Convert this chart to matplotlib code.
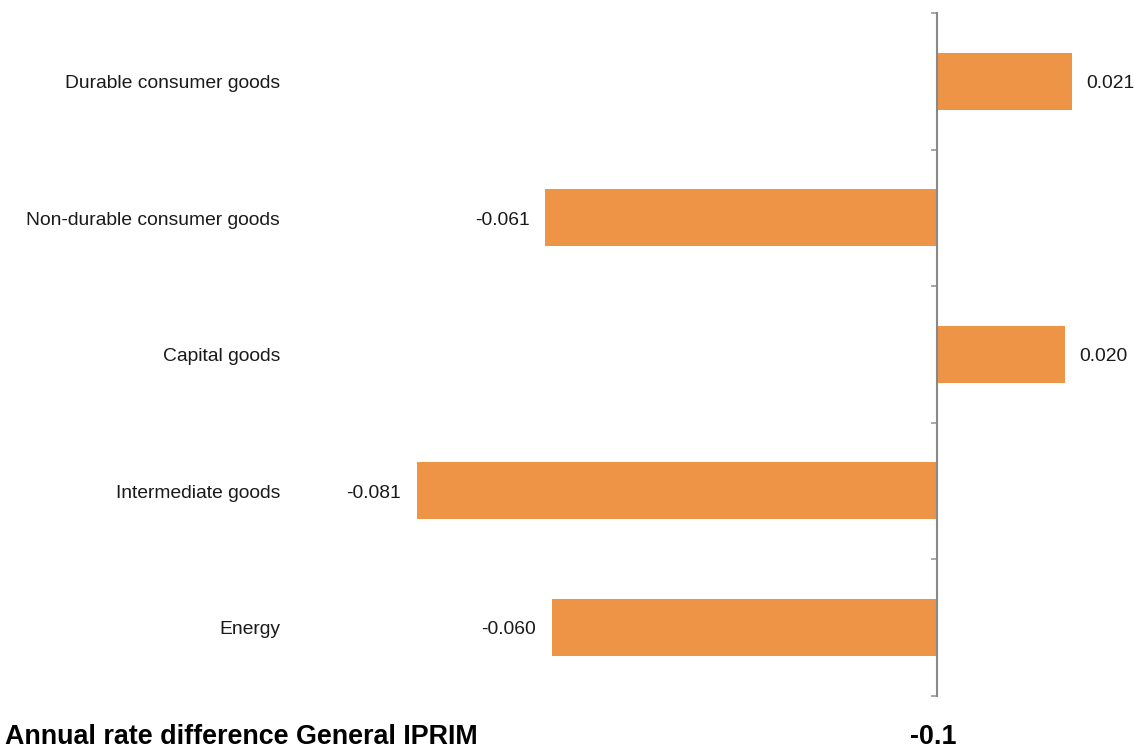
import matplotlib
matplotlib.use("Agg")
import matplotlib.pyplot as plt
import matplotlib.transforms as mtransforms
import numpy as np

plt.rcParams['font.family'] = ['Liberation Sans', 'DejaVu Sans']

categories = ["Durable consumer goods", "Non-durable consumer goods", "Capital goods",
              "Intermediate goods", "Energy"]
values = [0.021, -0.061, 0.020, -0.081, -0.060]
value_labels = ["0.021", "-0.061", "0.020", "-0.081", "-0.060"]
footer_label = "Annual rate difference General IPRIM"
footer_value = "-0.1"

W, H = 1136, 749
fig = plt.figure(figsize=(W / 100, H / 100), dpi=100)
ax = fig.add_axes([300 / W, (H - 695.5) / H, 800 / W, 682.5 / H])

y = np.arange(len(categories))
bar_color = '#ED9447'
ax.barh(y, values, height=0.42, color=bar_color, zorder=2)

scale = 6420.0
ax.set_xlim(-(937 - 300) / scale, (1100 - 937) / scale)
ax.set_ylim(len(categories) - 0.5, -0.5)

for s in ['top', 'right', 'bottom']:
    ax.spines[s].set_visible(False)
ax.spines['left'].set_position(('data', 0))
ax.spines['left'].set_color('#888888')
ax.spines['left'].set_linewidth(1.5)
ax.spines['left'].set_zorder(3)

ax.set_xticks([])
ax.set_yticks([])
ax.set_yticks(np.arange(len(categories) + 1) - 0.5, minor=True)
ax.tick_params(axis='y', which='minor', length=4.5, width=1.2, color='#999999',
               direction='out', labelleft=False)

fs = 13.9
dy = -2.5 / 100
trans_lbl = mtransforms.blended_transform_factory(fig.transFigure, ax.transData) + \
    mtransforms.ScaledTranslation(0, dy, fig.dpi_scale_trans)
for yi, cat in zip(y, categories):
    ax.text(280 / W, yi, cat, transform=trans_lbl, ha='right', va='center',
            fontsize=fs, color='#1a1a1a')

off = mtransforms.ScaledTranslation(14 / 100, dy, fig.dpi_scale_trans)
offn = mtransforms.ScaledTranslation(-16 / 100, dy, fig.dpi_scale_trans)
for yi, v, lab in zip(y, values, value_labels):
    if v >= 0:
        ax.text(v, yi, lab, transform=ax.transData + off, ha='left', va='center',
                fontsize=fs, color='#1a1a1a')
    else:
        ax.text(v, yi, lab, transform=ax.transData + offn, ha='right', va='center',
                fontsize=fs, color='#1a1a1a')

fy = (H - 737) / H
fig.text(5 / W, fy, footer_label, ha='left', va='center',
         fontsize=19.4, fontweight='bold', color='black')
trans_ft = mtransforms.blended_transform_factory(ax.transData, fig.transFigure)
ax.text(-0.0006, fy, footer_value, transform=trans_ft, ha='center', va='center',
        fontsize=19.4, fontweight='bold', color='black', clip_on=False)

fig.savefig("out.png", dpi=100)
